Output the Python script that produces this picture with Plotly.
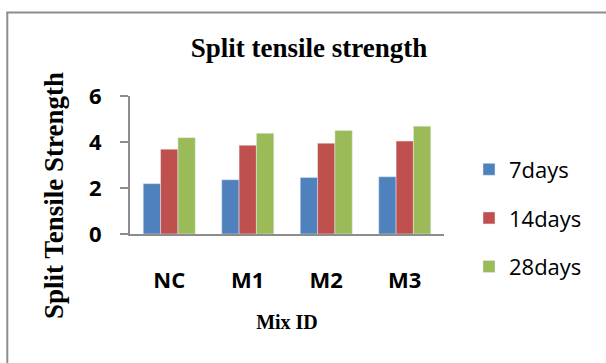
import plotly.graph_objects as go

categories = ["NC", "M1", "M2", "M3"]
series_names = ["7days", "14days", "28days"]
days7 = [2.19, 2.36, 2.46, 2.49]
days14 = [3.69, 3.86, 3.95, 4.04]
days28 = [4.19, 4.38, 4.50, 4.69]
colors = ["#4F81BD", "#C0504D", "#9BBB59"]
y_ticks = [0, 2, 4, 6]

W, H = 606, 363
L, R = 130, 444          # plot area left/right px
T, B = 95.7, 234         # plot area top/bottom px

fig = go.Figure()
for name, vals, col in zip(series_names, [days7, days14, days28], colors):
    fig.add_trace(go.Bar(x=categories, y=vals, name=name, marker_color=col,
                         legendgroup=name))

def px2x(px):
    return (px - L) / (R - L)

def px2y(py):
    return (B - py) / (B - T)

frame = dict(color="#8c8c8c", width=2)
fig.add_shape(type="line", xref="paper", yref="paper",
              x0=px2x(7.3), x1=px2x(7.3), y0=px2y(12), y1=px2y(380), line=frame)
fig.add_shape(type="line", xref="paper", yref="paper",
              x0=px2x(6.3), x1=px2x(620), y0=px2y(12), y1=px2y(12), line=frame)

fig.add_annotation(text="<b>Split Tensile Strength</b>", xref="paper", yref="paper",
                   x=px2x(54), y=px2y(196), textangle=-90, showarrow=False,
                   xanchor="center", yanchor="middle",
                   font=dict(family="Liberation Serif", size=27, color="black"))

fig.update_layout(
    width=W, height=H,
    margin=dict(l=L, r=W - R, t=T, b=H - B, pad=0),
    paper_bgcolor="white", plot_bgcolor="white",
    bargap=0.337, bargroupgap=0,
    title=dict(text="<b>Split tensile strength</b>", x=309 / W, xanchor="center",
               xref="container", yref="container", y=1 - 48 / H, yanchor="middle",
               font=dict(family="Liberation Serif", size=27, color="black")),
    legend=dict(x=px2x(469), xanchor="left", y=px2y(218), yanchor="middle",
                font=dict(family="Open Sans", size=22, color="black"),
                traceorder="grouped", tracegroupgap=17, bgcolor="rgba(0,0,0,0)",
                maxheight=320),
    xaxis=dict(showline=True, linecolor="#8c8c8c", linewidth=2, ticks="",
               showgrid=False, ticklabelstandoff=26,
               tickfont=dict(family="Open Sans", size=22, color="black", weight="bold"),
               title=dict(text="<b>Mix ID</b>", standoff=22,
                          font=dict(family="Liberation Serif", size=20, color="black"))),
    yaxis=dict(range=[0, 6], tickvals=y_ticks, showline=True, linecolor="#8c8c8c",
               linewidth=2, ticks="outside", ticklen=8, tickcolor="#8c8c8c", tickwidth=2,
               showgrid=False, zeroline=False, ticklabelstandoff=14,
               tickfont=dict(family="Open Sans", size=22, color="black", weight="bold")),
)

fig.write_html("out.html")
